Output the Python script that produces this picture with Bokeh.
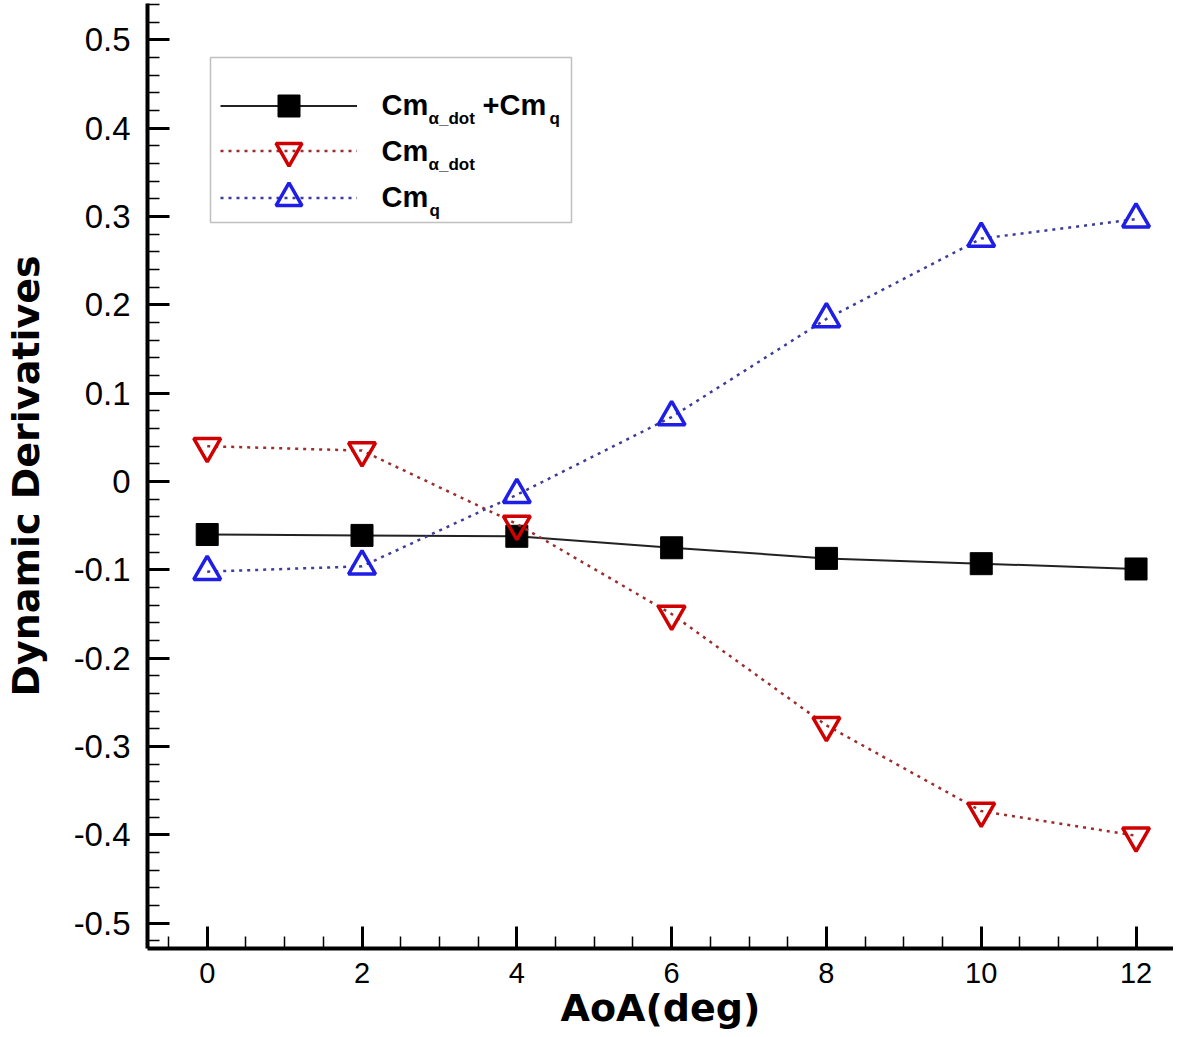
import numpy as np
from bokeh.plotting import figure
from bokeh.models import (Range1d, FixedTicker, CustomJSTickFormatter, Legend, LegendItem,
                          Label, BoxAnnotation)
from bokeh.embed import file_html
from bokeh.resources import INLINE

# ---------------- data ----------------
aoa = [0, 2, 4, 6, 8, 10, 12]
cm_sum = [-0.060, -0.061, -0.062, -0.075, -0.087, -0.093, -0.099]          # Cm_alpha_dot + Cm_q
cm_alpha_dot = [0.040, 0.035, -0.048, -0.150, -0.276, -0.373, -0.401]       # Cm_alpha_dot
cm_q = [-0.102, -0.096, -0.015, 0.073, 0.184, 0.275, 0.297]                 # Cm_q

x_ticks = [0, 2, 4, 6, 8, 10, 12]
y_ticks = [-0.5, -0.4, -0.3, -0.2, -0.1, 0.0, 0.1, 0.2, 0.3, 0.4, 0.5]
x_title = "AoA(deg)"
y_title = "Dynamic Derivatives"

# legend texts: (base, subscript) pieces per row
legend_rows = [
    [("Cm", "α_dot"), ("+Cm", "q")],
    [("Cm", "α_dot")],
    [("Cm", "q")],
]

# ---------------- layout ----------------
W, H = 1173, 1037
BL, BT, BB = 142, 3, 89
FW = W - BL
X0 = -0.7714
PX_PER_X = 77.78

p = figure(width=W, height=H, output_backend="svg", toolbar_location=None,
           x_range=Range1d(X0, X0 + FW / PX_PER_X), y_range=Range1d(-0.5286, 0.5411),
           min_border_left=BL, min_border_bottom=BB, min_border_top=BT, min_border_right=0)
p.outline_line_alpha = 0
p.grid.visible = False
p.background_fill_color = "white"
p.border_fill_color = "white"

# axes
p.xaxis.ticker = FixedTicker(ticks=x_ticks, minor_ticks=list(np.arange(-0.5, 12.51, 0.5)))
p.yaxis.ticker = FixedTicker(ticks=y_ticks, minor_ticks=list(np.round(np.arange(-0.52, 0.5401, 0.02), 2)))
p.yaxis.formatter = CustomJSTickFormatter(code="return Math.abs(tick) < 1e-9 ? '0' : tick.toFixed(1);")

for ax in (p.xaxis[0], p.yaxis[0]):
    ax.axis_line_width = 4
    ax.axis_line_color = "black"
    ax.major_tick_in = 22
    ax.major_tick_out = 0
    ax.minor_tick_in = 12
    ax.minor_tick_out = 0
    ax.major_tick_line_width = 3
    ax.minor_tick_line_width = 1.5
    ax.major_tick_line_color = "black"
    ax.minor_tick_line_color = "black"
    ax.major_label_text_color = "black"
    ax.axis_label_text_color = "black"
    ax.axis_label_text_font = "DejaVu Sans"
    ax.axis_label_text_font_style = "bold"
    ax.axis_label_text_font_size = "38px"

p.xaxis.axis_label = x_title
p.yaxis.axis_label = y_title
p.xaxis.major_label_text_font = "'Liberation Sans Narrow', 'Liberation Sans'"
p.xaxis.major_label_text_font_size = "29px"
p.xaxis.major_label_standoff = 14
p.xaxis.axis_label_standoff = 0
p.yaxis.major_label_text_font = "Liberation Sans"
p.yaxis.major_label_text_font_size = "33px"
p.yaxis.major_label_standoff = 17
p.yaxis.axis_label_standoff = 23

# ---------------- series ----------------
l_sum = p.line(aoa, cm_sum, line_color="#222222", line_width=2)
s_sum = p.scatter(aoa, cm_sum, marker="square", size=22, fill_color="black",
                  line_color="black", line_width=1)

l_ad = p.line(aoa, cm_alpha_dot, line_color="#9b2d2d", line_width=2.5, line_dash="3 5")
s_ad = p.scatter(aoa, cm_alpha_dot, marker="inverted_triangle", size=27, fill_alpha=0,
                 line_color="#d00000", line_width=3.5)

l_q = p.line(aoa, cm_q, line_color="#3d3d99", line_width=2.5, line_dash="3 5")
s_q = p.scatter(aoa, cm_q, marker="triangle", size=27, fill_alpha=0,
                line_color="#1e1ee6", line_width=3.5)

# ---------------- legend ----------------
OX = 3            # canvas offset on the page (x)
FRAME_BOTTOM = H - BB

def ref_x(px):      # page x -> frame-relative screen x
    return px - OX - BL

def ref_y(py):      # page y -> frame-relative screen y (from bottom)
    return FRAME_BOTTOM - py

box = BoxAnnotation(left=ref_x(208), right=ref_x(569), top=ref_y(57), bottom=ref_y(222),
                    left_units="screen", right_units="screen", top_units="screen",
                    bottom_units="screen", fill_alpha=0, line_color="#333333", line_width=1.5)
p.add_layout(box)

row_renderers = [[l_sum, s_sum], [l_ad, s_ad], [l_q, s_q]]
row_centers = [105, 150.5, 197]
row_heights = [55, 65, 65]
for rends, c, h in zip(row_renderers, row_centers, row_heights):
    lg = Legend(items=[LegendItem(label=" ", renderers=rends)],
                location=(ref_x(218), ref_y(c + h / 2)),
                glyph_width=137, glyph_height=h, padding=0, margin=0, spacing=0,
                label_standoff=0, label_width=0, label_height=0,
                label_text_font_size="1px", border_line_alpha=0,
                background_fill_alpha=0)
    p.add_layout(lg)

row_baselines = [104, 150, 196]
piece_x = [[(379, 426), (480, 547)], [(379, 426)], [(379, 427)]]
for pieces, xs, base in zip(legend_rows, piece_x, row_baselines):
    for (main, sub), (xm, xs_) in zip(pieces, xs):
        p.add_layout(Label(x=ref_x(xm), y=ref_y(base), x_units="screen", y_units="screen",
                           text=main, text_font="Liberation Sans", text_font_style="bold",
                           text_font_size="29px", text_baseline="alphabetic",
                           text_color="black"))
        p.add_layout(Label(x=ref_x(xs_), y=ref_y(base + 14), x_units="screen", y_units="screen",
                           text=sub, text_font="Liberation Sans", text_font_style="bold",
                           text_font_size="17px", text_baseline="alphabetic",
                           text_color="black"))

open("out.html", "w").write(file_html(p, INLINE))
